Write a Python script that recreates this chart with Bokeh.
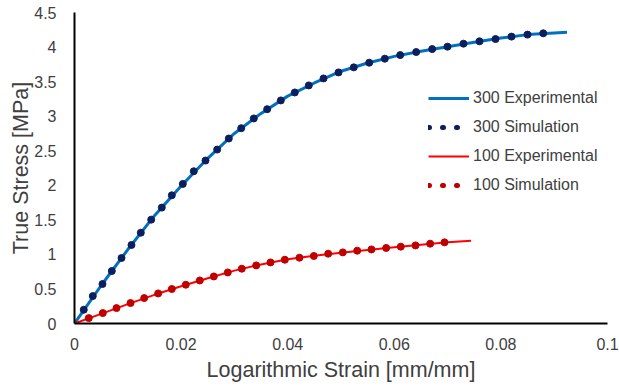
from bokeh.plotting import figure
from bokeh.models import (Range1d, FixedTicker, CustomJSTickFormatter,
                          Legend, LegendItem)
from bokeh.embed import file_html
from bokeh.resources import INLINE

# 300 experimental curve (strain, stress)
exp300_strain = [0, 0.005, 0.010, 0.015, 0.020, 0.025, 0.030, 0.035, 0.040,
                 0.045, 0.050, 0.055, 0.060, 0.065, 0.070, 0.075, 0.080,
                 0.085, 0.090, 0.0924]
exp300_stress = [0, 0.55, 1.07, 1.56, 1.99, 2.39, 2.75, 3.04, 3.29,
                 3.48, 3.65, 3.77, 3.865, 3.94, 4.005, 4.07, 4.13,
                 4.18, 4.205, 4.213]

# 300 simulation points
sim300_strain = [0.00174, 0.00343, 0.00525, 0.00700, 0.00882, 0.01069,
                 0.01244, 0.01439, 0.01638, 0.01826, 0.02032, 0.02238,
                 0.02458, 0.02677, 0.02895, 0.03128, 0.03364, 0.03615,
                 0.03871, 0.04133, 0.04396, 0.04672, 0.04953, 0.05240,
                 0.05529, 0.05822, 0.06111, 0.06411, 0.06711, 0.06998,
                 0.07298, 0.07598, 0.07899, 0.08199, 0.08499, 0.08794]
sim300_stress = [0.199, 0.397, 0.571, 0.759, 0.948, 1.136,
                 1.314, 1.503, 1.677, 1.855, 2.020, 2.203,
                 2.358, 2.517, 2.677, 2.826, 2.967, 3.101,
                 3.228, 3.343, 3.445, 3.546, 3.633, 3.706,
                 3.774, 3.832, 3.884, 3.928, 3.971, 4.006,
                 4.049, 4.083, 4.116, 4.151, 4.180, 4.199]

# 100 experimental curve
exp100_strain = [0, 0.005, 0.010, 0.015, 0.020, 0.025, 0.030, 0.035, 0.040,
                 0.045, 0.050, 0.055, 0.060, 0.065, 0.070, 0.0744]
exp100_stress = [0, 0.14, 0.28, 0.415, 0.54, 0.655, 0.765, 0.855, 0.93,
                 0.98, 1.025, 1.065, 1.105, 1.14, 1.175, 1.199]

# 100 simulation points
sim100_strain = [0.00268, 0.00531, 0.00788, 0.01051, 0.01308, 0.01570,
                 0.01826, 0.02088, 0.02351, 0.02614, 0.02876, 0.03139,
                 0.03409, 0.03677, 0.03946, 0.04221, 0.04490, 0.04760,
                 0.05034, 0.05304, 0.05572, 0.05848, 0.06122, 0.06398,
                 0.06673, 0.06942]
sim100_stress = [0.078, 0.151, 0.223, 0.296, 0.368, 0.435,
                 0.499, 0.561, 0.623, 0.681, 0.739, 0.793,
                 0.841, 0.884, 0.923, 0.952, 0.977, 1.010,
                 1.029, 1.054, 1.072, 1.093, 1.112, 1.130,
                 1.155, 1.174]

x_ticks = [0, 0.02, 0.04, 0.06, 0.08, 0.1]
y_ticks = [0, 0.5, 1, 1.5, 2, 2.5, 3, 3.5, 4, 4.5]

FONT = "Liberation Sans"
TEXT = "#404040"
BLUE_LINE = "#0070C0"
BLUE_DOT = "#0B1F5E"
RED_LINE = "#FF0000"
RED_DOT = "#C00000"
NAN = float("nan")

p = figure(width=619, height=386, output_backend="svg", toolbar_location=None,
           x_range=Range1d(0, 0.1), y_range=Range1d(0, 4.5),
           min_border_left=74, min_border_right=12,
           min_border_top=12, min_border_bottom=63)
p.outline_line_color = None
p.grid.visible = False
p.background_fill_color = "white"
p.border_fill_color = "white"

for ax in (p.xaxis[0], p.yaxis[0]):
    ax.axis_line_color = "black"
    ax.axis_line_width = 2
    ax.major_tick_line_color = None
    ax.minor_tick_line_color = None
    ax.major_label_text_font = FONT
    ax.major_label_text_font_size = "16px"
    ax.major_label_text_color = TEXT
    ax.axis_label_text_font = FONT
    ax.axis_label_text_font_size = "21.5px"
    ax.axis_label_text_font_style = "normal"
    ax.axis_label_text_color = TEXT

p.xaxis.ticker = FixedTicker(ticks=x_ticks)
p.yaxis.ticker = FixedTicker(ticks=y_ticks)
p.xaxis.formatter = CustomJSTickFormatter(code="return String(Number(tick.toFixed(2)));")
p.yaxis.formatter = CustomJSTickFormatter(code="return String(Number(tick.toFixed(1)));")
p.xaxis.axis_label = "Logarithmic Strain [mm/mm]"
p.yaxis.axis_label = "True Stress [MPa]"
p.xaxis.major_label_standoff = 8
p.yaxis.major_label_standoff = 12
p.xaxis.axis_label_standoff = 5
p.yaxis.axis_label_standoff = -2

r_exp300 = p.line(exp300_strain, exp300_stress, line_color=BLUE_LINE, line_width=3)
p.scatter(sim300_strain, sim300_stress, size=7, fill_color=BLUE_DOT, line_color=BLUE_DOT)
r_exp100 = p.line(exp100_strain, exp100_stress, line_color=RED_LINE, line_width=2)
p.scatter(sim100_strain, sim100_stress, size=7, fill_color=RED_DOT, line_color=RED_DOT)

# three-dot legend swatches for the simulation series (no visible data)
DOTS = "1 13 1 13 1 99"
r_key300 = p.line([NAN], [NAN], line_color=BLUE_DOT, line_width=5, line_cap="round",
                  line_dash=DOTS)
r_key100 = p.line([NAN], [NAN], line_color=RED_DOT, line_width=5, line_cap="round",
                  line_dash=DOTS)

legend = Legend(items=[
    LegendItem(label="300 Experimental", renderers=[r_exp300]),
    LegendItem(label="300 Simulation", renderers=[r_key300]),
    LegendItem(label="100 Experimental", renderers=[r_exp100]),
    LegendItem(label="100 Simulation", renderers=[r_key100]),
], location=(354, 128))
legend.background_fill_alpha = 0
legend.border_line_color = None
legend.padding = 0
legend.margin = 0
legend.spacing = 9
legend.glyph_width = 41
legend.glyph_height = 20
legend.label_height = 20
legend.label_standoff = 4
legend.label_text_font = FONT
legend.label_text_font_size = "16px"
legend.label_text_color = TEXT
p.add_layout(legend, "center")

open("out.html", "w").write(file_html(p, INLINE))
